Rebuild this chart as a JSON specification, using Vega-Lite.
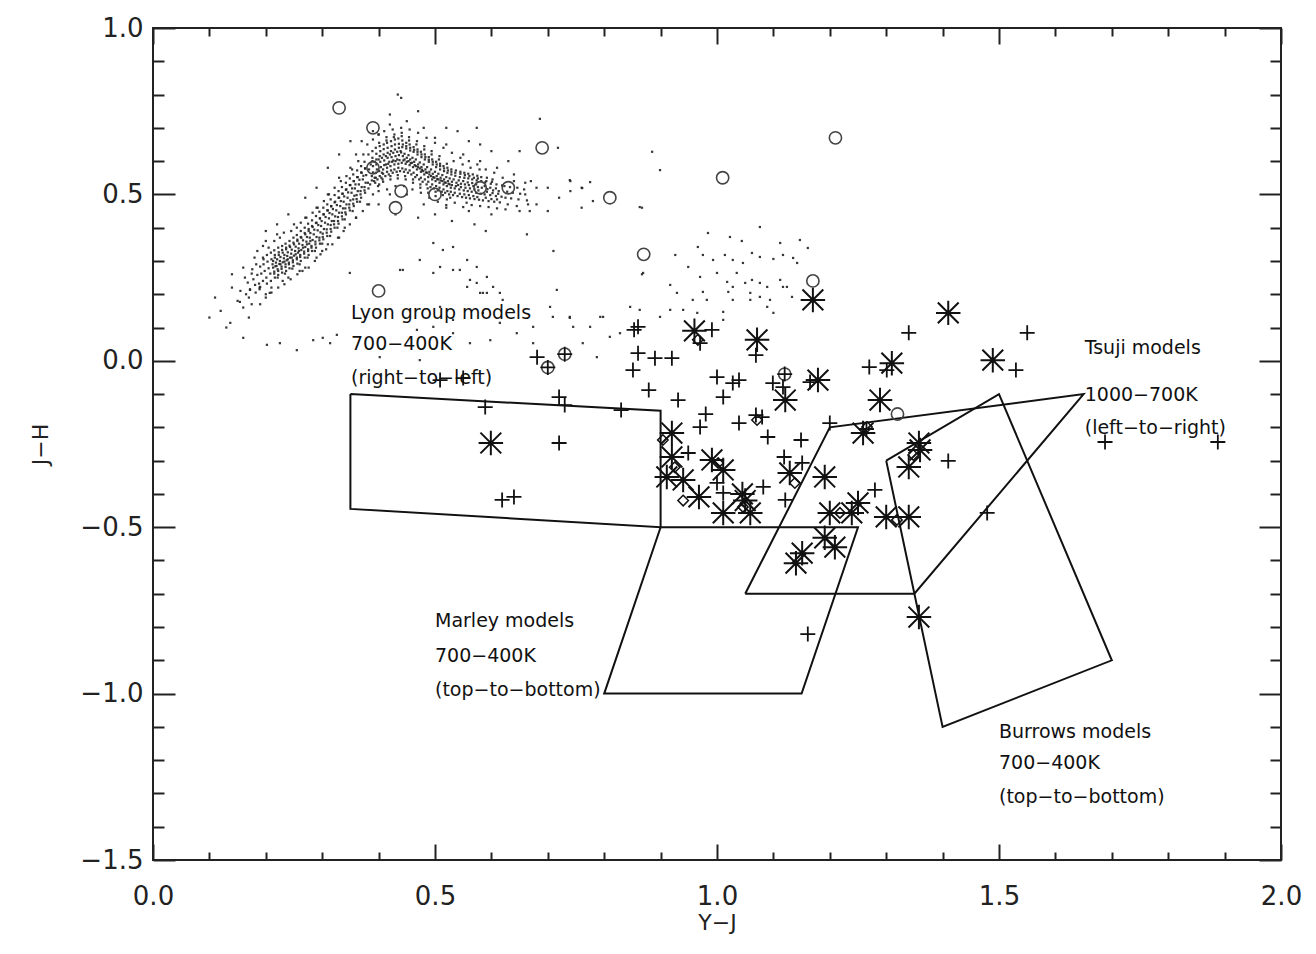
{
  "$schema": "https://vega.github.io/schema/vega-lite/v6.json",
  "width": 1128,
  "height": 832,
  "autosize": {"type": "none"},
  "padding": {"left": 153, "top": 28, "right": 35, "bottom": 94},
  "background": "white",
  "config": {
    "view": {"stroke": "#222", "strokeWidth": 2},
    "axis": {"grid": false, "domain": false, "tickColor": "#222", "tickWidth": 2, "labelFont": "DejaVu Sans", "labelFontSize": 26, "labelColor": "#222", "titleFont": "DejaVu Sans", "titleFontSize": 22, "titleFontWeight": "normal", "titleColor": "#222", "labelFlush": false, "labelOverlap": false, "format": ".1f"}
  },
  "resolve": {"axis": {"x": "independent", "y": "independent"}},
  "datasets": {
    "dots": [
      {"x":0.165,"y":0.20},{"x":0.168,"y":0.235},{"x":0.163,"y":0.25},
      {"x":0.172,"y":0.215},{"x":0.175,"y":0.262},{"x":0.170,"y":0.19},
      {"x":0.178,"y":0.245},{"x":0.181,"y":0.228},{"x":0.176,"y":0.275},{"x":0.182,"y":0.205},
      {"x":0.185,"y":0.258},{"x":0.188,"y":0.232},{"x":0.183,"y":0.29},{"x":0.189,"y":0.215},
      {"x":0.192,"y":0.262},{"x":0.195,"y":0.24},{"x":0.19,"y":0.283},{"x":0.196,"y":0.305},{"x":0.189,"y":0.22},
      {"x":0.198,"y":0.27},{"x":0.201,"y":0.25},{"x":0.196,"y":0.29},{"x":0.202,"y":0.232},{"x":0.195,"y":0.31},
      {"x":0.205,"y":0.278},{"x":0.208,"y":0.262},{"x":0.203,"y":0.298},{"x":0.209,"y":0.24},{"x":0.202,"y":0.318},
      {"x":0.212,"y":0.29},{"x":0.215,"y":0.268},{"x":0.21,"y":0.305},{"x":0.216,"y":0.25},{"x":0.209,"y":0.325},{"x":0.213,"y":0.28},
      {"x":0.218,"y":0.295},{"x":0.221,"y":0.275},{"x":0.216,"y":0.31},{"x":0.222,"y":0.258},{"x":0.215,"y":0.332},{"x":0.219,"y":0.285},
      {"x":0.225,"y":0.30},{"x":0.228,"y":0.283},{"x":0.223,"y":0.318},{"x":0.229,"y":0.265},{"x":0.222,"y":0.34},{"x":0.226,"y":0.29},
      {"x":0.232,"y":0.308},{"x":0.235,"y":0.29},{"x":0.23,"y":0.325},{"x":0.236,"y":0.27},{"x":0.229,"y":0.345},{"x":0.233,"y":0.298},
      {"x":0.238,"y":0.315},{"x":0.241,"y":0.295},{"x":0.236,"y":0.335},{"x":0.242,"y":0.278},{"x":0.235,"y":0.352},{"x":0.239,"y":0.305},
      {"x":0.245,"y":0.322},{"x":0.248,"y":0.302},{"x":0.243,"y":0.342},{"x":0.249,"y":0.285},{"x":0.242,"y":0.36},{"x":0.246,"y":0.31},
      {"x":0.252,"y":0.33},{"x":0.255,"y":0.31},{"x":0.25,"y":0.35},{"x":0.256,"y":0.292},{"x":0.249,"y":0.37},{"x":0.253,"y":0.32},
      {"x":0.258,"y":0.338},{"x":0.261,"y":0.318},{"x":0.256,"y":0.36},{"x":0.262,"y":0.30},{"x":0.255,"y":0.378},{"x":0.259,"y":0.33},
      {"x":0.265,"y":0.348},{"x":0.268,"y":0.328},{"x":0.263,"y":0.37},{"x":0.269,"y":0.31},{"x":0.262,"y":0.39},{"x":0.266,"y":0.34},
      {"x":0.272,"y":0.358},{"x":0.275,"y":0.335},{"x":0.27,"y":0.38},{"x":0.276,"y":0.318},{"x":0.269,"y":0.40},{"x":0.273,"y":0.35},
      {"x":0.278,"y":0.37},{"x":0.281,"y":0.345},{"x":0.276,"y":0.39},{"x":0.282,"y":0.33},{"x":0.275,"y":0.412},{"x":0.279,"y":0.36},
      {"x":0.285,"y":0.38},{"x":0.288,"y":0.358},{"x":0.283,"y":0.402},{"x":0.289,"y":0.34},{"x":0.282,"y":0.422},
      {"x":0.292,"y":0.392},{"x":0.295,"y":0.37},{"x":0.29,"y":0.415},{"x":0.296,"y":0.352},{"x":0.289,"y":0.435},
      {"x":0.298,"y":0.405},{"x":0.301,"y":0.382},{"x":0.296,"y":0.428},{"x":0.302,"y":0.365},{"x":0.295,"y":0.448},
      {"x":0.305,"y":0.415},{"x":0.308,"y":0.395},{"x":0.303,"y":0.44},{"x":0.309,"y":0.375},{"x":0.302,"y":0.46},
      {"x":0.312,"y":0.428},{"x":0.315,"y":0.408},{"x":0.31,"y":0.452},{"x":0.316,"y":0.388},{"x":0.309,"y":0.47},
      {"x":0.318,"y":0.44},{"x":0.321,"y":0.42},{"x":0.316,"y":0.465},{"x":0.322,"y":0.40},{"x":0.315,"y":0.485},
      {"x":0.325,"y":0.452},{"x":0.328,"y":0.432},{"x":0.323,"y":0.478},{"x":0.329,"y":0.412},{"x":0.322,"y":0.498},
      {"x":0.332,"y":0.465},{"x":0.335,"y":0.445},{"x":0.33,"y":0.49},{"x":0.336,"y":0.425},{"x":0.329,"y":0.51},
      {"x":0.338,"y":0.478},{"x":0.341,"y":0.458},{"x":0.336,"y":0.502},{"x":0.342,"y":0.44},{"x":0.335,"y":0.522},
      {"x":0.345,"y":0.49},{"x":0.348,"y":0.47},{"x":0.343,"y":0.515},{"x":0.349,"y":0.452},{"x":0.342,"y":0.535},
      {"x":0.352,"y":0.505},{"x":0.355,"y":0.485},{"x":0.35,"y":0.528},{"x":0.356,"y":0.465},{"x":0.349,"y":0.548},
      {"x":0.358,"y":0.518},{"x":0.361,"y":0.498},{"x":0.356,"y":0.54},{"x":0.362,"y":0.478},{"x":0.355,"y":0.56},
      {"x":0.365,"y":0.53},{"x":0.368,"y":0.51},{"x":0.363,"y":0.552},{"x":0.369,"y":0.49},{"x":0.362,"y":0.572},
      {"x":0.372,"y":0.545},{"x":0.375,"y":0.522},{"x":0.37,"y":0.565},{"x":0.376,"y":0.505},{"x":0.369,"y":0.585},
      {"x":0.378,"y":0.558},{"x":0.381,"y":0.535},{"x":0.376,"y":0.578},{"x":0.382,"y":0.518},{"x":0.375,"y":0.598},
      {"x":0.215,"y":0.262},{"x":0.217,"y":0.284},{"x":0.213,"y":0.30},{"x":0.216,"y":0.318},
      {"x":0.222,"y":0.27},{"x":0.224,"y":0.291},{"x":0.22,"y":0.305},{"x":0.223,"y":0.326},{"x":0.221,"y":0.25},
      {"x":0.228,"y":0.276},{"x":0.230,"y":0.296},{"x":0.226,"y":0.312},{"x":0.229,"y":0.333},
      {"x":0.235,"y":0.282},{"x":0.237,"y":0.302},{"x":0.233,"y":0.318},{"x":0.236,"y":0.34},{"x":0.234,"y":0.262},
      {"x":0.241,"y":0.29},{"x":0.243,"y":0.31},{"x":0.239,"y":0.326},{"x":0.242,"y":0.346},
      {"x":0.248,"y":0.296},{"x":0.25,"y":0.316},{"x":0.246,"y":0.334},{"x":0.249,"y":0.355},{"x":0.247,"y":0.277},
      {"x":0.255,"y":0.305},{"x":0.257,"y":0.325},{"x":0.253,"y":0.343},{"x":0.256,"y":0.364},
      {"x":0.261,"y":0.312},{"x":0.263,"y":0.333},{"x":0.259,"y":0.352},{"x":0.262,"y":0.372},{"x":0.26,"y":0.29},
      {"x":0.268,"y":0.322},{"x":0.27,"y":0.342},{"x":0.266,"y":0.362},{"x":0.269,"y":0.384},
      {"x":0.275,"y":0.33},{"x":0.277,"y":0.352},{"x":0.273,"y":0.372},{"x":0.276,"y":0.396},{"x":0.274,"y":0.31},
      {"x":0.281,"y":0.34},{"x":0.283,"y":0.363},{"x":0.279,"y":0.384},{"x":0.282,"y":0.405},
      {"x":0.288,"y":0.35},{"x":0.29,"y":0.372},{"x":0.286,"y":0.394},{"x":0.289,"y":0.414},{"x":0.287,"y":0.33},
      {"x":0.295,"y":0.362},{"x":0.297,"y":0.386},{"x":0.293,"y":0.408},{"x":0.296,"y":0.428},
      {"x":0.301,"y":0.372},{"x":0.303,"y":0.396},{"x":0.299,"y":0.42},{"x":0.302,"y":0.44},{"x":0.3,"y":0.352},
      {"x":0.308,"y":0.385},{"x":0.31,"y":0.41},{"x":0.306,"y":0.432},{"x":0.309,"y":0.452},
      {"x":0.315,"y":0.396},{"x":0.317,"y":0.42},{"x":0.313,"y":0.444},{"x":0.316,"y":0.464},{"x":0.314,"y":0.375},
      {"x":0.321,"y":0.41},{"x":0.323,"y":0.434},{"x":0.319,"y":0.456},{"x":0.322,"y":0.476},
      {"x":0.328,"y":0.42},{"x":0.33,"y":0.445},{"x":0.326,"y":0.468},{"x":0.329,"y":0.49},{"x":0.327,"y":0.40},
      {"x":0.335,"y":0.434},{"x":0.337,"y":0.458},{"x":0.333,"y":0.48},{"x":0.336,"y":0.502},
      {"x":0.341,"y":0.446},{"x":0.343,"y":0.47},{"x":0.339,"y":0.494},{"x":0.342,"y":0.514},{"x":0.34,"y":0.425},
      {"x":0.348,"y":0.46},{"x":0.35,"y":0.482},{"x":0.346,"y":0.506},{"x":0.349,"y":0.528},
      {"x":0.355,"y":0.472},{"x":0.357,"y":0.496},{"x":0.353,"y":0.518},{"x":0.356,"y":0.54},{"x":0.354,"y":0.45},
      {"x":0.361,"y":0.486},{"x":0.363,"y":0.51},{"x":0.359,"y":0.53},{"x":0.362,"y":0.552},
      {"x":0.368,"y":0.5},{"x":0.37,"y":0.522},{"x":0.366,"y":0.544},{"x":0.369,"y":0.566},{"x":0.367,"y":0.478},
      {"x":0.375,"y":0.512},{"x":0.377,"y":0.535},{"x":0.373,"y":0.556},{"x":0.376,"y":0.578},
      {"x":0.185,"y":0.33},{"x":0.195,"y":0.345},{"x":0.205,"y":0.34},{"x":0.215,"y":0.36},{"x":0.225,"y":0.37},{"x":0.232,"y":0.385},
      {"x":0.245,"y":0.39},{"x":0.255,"y":0.40},{"x":0.262,"y":0.415},{"x":0.272,"y":0.43},{"x":0.283,"y":0.445},{"x":0.292,"y":0.46},
      {"x":0.303,"y":0.48},{"x":0.312,"y":0.5},{"x":0.322,"y":0.52},{"x":0.333,"y":0.54},{"x":0.343,"y":0.555},{"x":0.353,"y":0.575},
      {"x":0.364,"y":0.6},{"x":0.373,"y":0.62},
      {"x":0.20,"y":0.19},{"x":0.21,"y":0.205},{"x":0.222,"y":0.22},{"x":0.233,"y":0.23},{"x":0.244,"y":0.245},{"x":0.256,"y":0.26},
      {"x":0.265,"y":0.27},{"x":0.276,"y":0.28},{"x":0.287,"y":0.30},{"x":0.297,"y":0.32},{"x":0.307,"y":0.335},{"x":0.318,"y":0.35},
      {"x":0.328,"y":0.37},{"x":0.338,"y":0.39},{"x":0.349,"y":0.41},{"x":0.36,"y":0.43},{"x":0.372,"y":0.45},{"x":0.383,"y":0.47},
      {"x":0.39,"y":0.665},{"x":0.40,"y":0.68},{"x":0.41,"y":0.69},{"x":0.425,"y":0.695},{"x":0.44,"y":0.70},{"x":0.455,"y":0.695},
      {"x":0.47,"y":0.685},{"x":0.485,"y":0.67},{"x":0.50,"y":0.655},{"x":0.515,"y":0.64},{"x":0.53,"y":0.625},{"x":0.545,"y":0.61},
      {"x":0.56,"y":0.60},{"x":0.575,"y":0.59},{"x":0.59,"y":0.575},{"x":0.605,"y":0.565},{"x":0.62,"y":0.55},{"x":0.64,"y":0.54},
      {"x":0.66,"y":0.535},{"x":0.68,"y":0.52},
      {"x":0.40,"y":0.51},{"x":0.415,"y":0.515},{"x":0.43,"y":0.525},{"x":0.445,"y":0.525},{"x":0.46,"y":0.515},{"x":0.475,"y":0.505},
      {"x":0.49,"y":0.49},{"x":0.505,"y":0.478},{"x":0.52,"y":0.468},{"x":0.535,"y":0.475},{"x":0.55,"y":0.462},{"x":0.565,"y":0.468},
      {"x":0.58,"y":0.465},{"x":0.595,"y":0.462},{"x":0.61,"y":0.458},{"x":0.625,"y":0.455},{"x":0.645,"y":0.465},{"x":0.665,"y":0.47},
      {"x":0.15,"y":0.18},{"x":0.155,"y":0.21},{"x":0.16,"y":0.16},{"x":0.14,"y":0.22},{"x":0.175,"y":0.17},{"x":0.19,"y":0.17},
      {"x":0.2,"y":0.2},{"x":0.21,"y":0.22},{"x":0.23,"y":0.24},{"x":0.24,"y":0.25},{"x":0.26,"y":0.27},{"x":0.27,"y":0.28},
      {"x":0.29,"y":0.31},{"x":0.3,"y":0.33},{"x":0.31,"y":0.35},{"x":0.33,"y":0.37},{"x":0.2,"y":0.36},{"x":0.22,"y":0.38},
      {"x":0.25,"y":0.41},{"x":0.27,"y":0.43},{"x":0.29,"y":0.46},{"x":0.31,"y":0.5},{"x":0.33,"y":0.55},{"x":0.35,"y":0.58},
      {"x":0.36,"y":0.62},{"x":0.38,"y":0.65},{"x":0.4,"y":0.68},{"x":0.34,"y":0.4},{"x":0.36,"y":0.43},{"x":0.38,"y":0.47},
      {"x":0.39,"y":0.5},{"x":0.12,"y":0.15},{"x":0.1,"y":0.13},{"x":0.13,"y":0.1},{"x":0.11,"y":0.19},{"x":0.17,"y":0.13},
      {"x":0.385,"y":0.53},{"x":0.388,"y":0.555},{"x":0.383,"y":0.575},{"x":0.389,"y":0.60},{"x":0.382,"y":0.62},
      {"x":0.392,"y":0.54},{"x":0.395,"y":0.565},{"x":0.39,"y":0.585},{"x":0.396,"y":0.605},{"x":0.389,"y":0.63},{"x":0.393,"y":0.55},
      {"x":0.398,"y":0.545},{"x":0.401,"y":0.57},{"x":0.396,"y":0.59},{"x":0.402,"y":0.615},{"x":0.395,"y":0.64},{"x":0.399,"y":0.525},
      {"x":0.405,"y":0.55},{"x":0.408,"y":0.575},{"x":0.403,"y":0.598},{"x":0.409,"y":0.62},{"x":0.402,"y":0.645},{"x":0.406,"y":0.565},{"x":0.401,"y":0.53},
      {"x":0.412,"y":0.555},{"x":0.415,"y":0.58},{"x":0.41,"y":0.602},{"x":0.416,"y":0.625},{"x":0.409,"y":0.65},{"x":0.413,"y":0.59},{"x":0.408,"y":0.538},
      {"x":0.418,"y":0.56},{"x":0.421,"y":0.585},{"x":0.416,"y":0.61},{"x":0.422,"y":0.63},{"x":0.415,"y":0.655},{"x":0.419,"y":0.598},{"x":0.414,"y":0.672},
      {"x":0.425,"y":0.565},{"x":0.428,"y":0.59},{"x":0.423,"y":0.612},{"x":0.429,"y":0.635},{"x":0.422,"y":0.66},{"x":0.426,"y":0.602},{"x":0.421,"y":0.545},
      {"x":0.432,"y":0.568},{"x":0.435,"y":0.592},{"x":0.43,"y":0.615},{"x":0.436,"y":0.64},{"x":0.429,"y":0.665},{"x":0.433,"y":0.605},{"x":0.428,"y":0.68},
      {"x":0.438,"y":0.57},{"x":0.441,"y":0.595},{"x":0.436,"y":0.618},{"x":0.442,"y":0.642},{"x":0.435,"y":0.668},{"x":0.439,"y":0.63},{"x":0.434,"y":0.548},
      {"x":0.445,"y":0.568},{"x":0.448,"y":0.592},{"x":0.443,"y":0.615},{"x":0.449,"y":0.638},{"x":0.442,"y":0.662},{"x":0.446,"y":0.605},{"x":0.441,"y":0.685},
      {"x":0.452,"y":0.565},{"x":0.455,"y":0.588},{"x":0.45,"y":0.61},{"x":0.456,"y":0.632},{"x":0.449,"y":0.655},{"x":0.453,"y":0.60},{"x":0.448,"y":0.545},
      {"x":0.458,"y":0.56},{"x":0.461,"y":0.582},{"x":0.456,"y":0.605},{"x":0.462,"y":0.628},{"x":0.455,"y":0.65},{"x":0.459,"y":0.595},{"x":0.454,"y":0.672},
      {"x":0.465,"y":0.552},{"x":0.468,"y":0.575},{"x":0.463,"y":0.598},{"x":0.469,"y":0.62},{"x":0.462,"y":0.642},{"x":0.466,"y":0.585},{"x":0.461,"y":0.535},
      {"x":0.472,"y":0.545},{"x":0.475,"y":0.568},{"x":0.47,"y":0.59},{"x":0.476,"y":0.612},{"x":0.469,"y":0.635},{"x":0.473,"y":0.578},{"x":0.468,"y":0.66},
      {"x":0.478,"y":0.538},{"x":0.481,"y":0.56},{"x":0.476,"y":0.582},{"x":0.482,"y":0.605},{"x":0.475,"y":0.628},{"x":0.479,"y":0.57},{"x":0.474,"y":0.52},
      {"x":0.485,"y":0.53},{"x":0.488,"y":0.552},{"x":0.483,"y":0.575},{"x":0.489,"y":0.598},{"x":0.482,"y":0.62},{"x":0.486,"y":0.565},{"x":0.481,"y":0.645},
      {"x":0.492,"y":0.522},{"x":0.495,"y":0.545},{"x":0.49,"y":0.568},{"x":0.496,"y":0.59},{"x":0.489,"y":0.612},{"x":0.493,"y":0.555},{"x":0.488,"y":0.505},
      {"x":0.498,"y":0.518},{"x":0.501,"y":0.54},{"x":0.496,"y":0.562},{"x":0.502,"y":0.582},{"x":0.495,"y":0.605},{"x":0.499,"y":0.55},{"x":0.494,"y":0.63},
      {"x":0.505,"y":0.512},{"x":0.508,"y":0.535},{"x":0.503,"y":0.555},{"x":0.509,"y":0.575},{"x":0.502,"y":0.598},{"x":0.506,"y":0.545},{"x":0.501,"y":0.495},
      {"x":0.512,"y":0.508},{"x":0.515,"y":0.53},{"x":0.51,"y":0.55},{"x":0.516,"y":0.57},{"x":0.509,"y":0.592},{"x":0.513,"y":0.54},{"x":0.508,"y":0.615},
      {"x":0.518,"y":0.505},{"x":0.521,"y":0.525},{"x":0.516,"y":0.545},{"x":0.522,"y":0.565},{"x":0.515,"y":0.585},{"x":0.519,"y":0.535},
      {"x":0.525,"y":0.50},{"x":0.528,"y":0.52},{"x":0.523,"y":0.54},{"x":0.529,"y":0.56},{"x":0.522,"y":0.58},{"x":0.526,"y":0.53},{"x":0.521,"y":0.485},
      {"x":0.532,"y":0.498},{"x":0.535,"y":0.518},{"x":0.53,"y":0.538},{"x":0.536,"y":0.556},{"x":0.529,"y":0.575},{"x":0.533,"y":0.6},
      {"x":0.54,"y":0.495},{"x":0.543,"y":0.515},{"x":0.538,"y":0.535},{"x":0.544,"y":0.552},{"x":0.537,"y":0.572},{"x":0.541,"y":0.528},
      {"x":0.548,"y":0.492},{"x":0.551,"y":0.512},{"x":0.546,"y":0.532},{"x":0.552,"y":0.55},{"x":0.545,"y":0.568},{"x":0.549,"y":0.59},
      {"x":0.555,"y":0.49},{"x":0.558,"y":0.51},{"x":0.553,"y":0.53},{"x":0.559,"y":0.548},{"x":0.552,"y":0.565},{"x":0.556,"y":0.475},
      {"x":0.562,"y":0.488},{"x":0.565,"y":0.508},{"x":0.56,"y":0.528},{"x":0.566,"y":0.545},{"x":0.559,"y":0.562},{"x":0.563,"y":0.58},
      {"x":0.57,"y":0.486},{"x":0.573,"y":0.505},{"x":0.568,"y":0.525},{"x":0.574,"y":0.542},{"x":0.567,"y":0.56},
      {"x":0.578,"y":0.484},{"x":0.581,"y":0.502},{"x":0.576,"y":0.522},{"x":0.582,"y":0.54},{"x":0.575,"y":0.556},{"x":0.579,"y":0.575},
      {"x":0.585,"y":0.482},{"x":0.588,"y":0.50},{"x":0.583,"y":0.52},{"x":0.589,"y":0.536},{"x":0.582,"y":0.552},
      {"x":0.595,"y":0.48},{"x":0.598,"y":0.498},{"x":0.593,"y":0.516},{"x":0.599,"y":0.532},{"x":0.592,"y":0.55},
      {"x":0.605,"y":0.478},{"x":0.608,"y":0.495},{"x":0.603,"y":0.512},{"x":0.609,"y":0.53},{"x":0.602,"y":0.545},
      {"x":0.615,"y":0.476},{"x":0.618,"y":0.493},{"x":0.613,"y":0.51},{"x":0.619,"y":0.527},
      {"x":0.625,"y":0.49},{"x":0.628,"y":0.508},{"x":0.623,"y":0.525},{"x":0.629,"y":0.47},
      {"x":0.635,"y":0.488},{"x":0.638,"y":0.505},{"x":0.633,"y":0.522},
      {"x":0.648,"y":0.485},{"x":0.651,"y":0.502},{"x":0.646,"y":0.52},
      {"x":0.66,"y":0.5},{"x":0.663,"y":0.482},{"x":0.658,"y":0.515},
      {"x":0.388,"y":0.542},{"x":0.39,"y":0.566},{"x":0.386,"y":0.59},{"x":0.389,"y":0.61},
      {"x":0.395,"y":0.55},{"x":0.397,"y":0.575},{"x":0.393,"y":0.598},{"x":0.396,"y":0.622},{"x":0.394,"y":0.535},
      {"x":0.402,"y":0.555},{"x":0.404,"y":0.582},{"x":0.4,"y":0.605},{"x":0.403,"y":0.63},{"x":0.401,"y":0.655},
      {"x":0.408,"y":0.562},{"x":0.41,"y":0.588},{"x":0.406,"y":0.61},{"x":0.409,"y":0.636},{"x":0.407,"y":0.545},
      {"x":0.415,"y":0.568},{"x":0.417,"y":0.592},{"x":0.413,"y":0.615},{"x":0.416,"y":0.64},{"x":0.414,"y":0.662},
      {"x":0.422,"y":0.572},{"x":0.424,"y":0.598},{"x":0.42,"y":0.62},{"x":0.423,"y":0.645},{"x":0.421,"y":0.555},
      {"x":0.428,"y":0.575},{"x":0.43,"y":0.6},{"x":0.426,"y":0.625},{"x":0.429,"y":0.65},{"x":0.427,"y":0.672},
      {"x":0.435,"y":0.58},{"x":0.437,"y":0.603},{"x":0.433,"y":0.628},{"x":0.436,"y":0.652},{"x":0.434,"y":0.558},
      {"x":0.442,"y":0.578},{"x":0.444,"y":0.602},{"x":0.44,"y":0.626},{"x":0.443,"y":0.65},{"x":0.441,"y":0.675},
      {"x":0.448,"y":0.575},{"x":0.45,"y":0.598},{"x":0.446,"y":0.622},{"x":0.449,"y":0.645},{"x":0.447,"y":0.555},
      {"x":0.455,"y":0.572},{"x":0.457,"y":0.594},{"x":0.453,"y":0.618},{"x":0.456,"y":0.64},{"x":0.454,"y":0.662},
      {"x":0.462,"y":0.565},{"x":0.464,"y":0.588},{"x":0.46,"y":0.61},{"x":0.463,"y":0.634},{"x":0.461,"y":0.545},
      {"x":0.468,"y":0.558},{"x":0.47,"y":0.582},{"x":0.466,"y":0.605},{"x":0.469,"y":0.628},{"x":0.467,"y":0.65},
      {"x":0.475,"y":0.55},{"x":0.477,"y":0.574},{"x":0.473,"y":0.596},{"x":0.476,"y":0.62},{"x":0.474,"y":0.53},
      {"x":0.482,"y":0.545},{"x":0.484,"y":0.566},{"x":0.48,"y":0.59},{"x":0.483,"y":0.612},{"x":0.481,"y":0.635},
      {"x":0.488,"y":0.538},{"x":0.49,"y":0.56},{"x":0.486,"y":0.582},{"x":0.489,"y":0.604},{"x":0.487,"y":0.518},
      {"x":0.495,"y":0.53},{"x":0.497,"y":0.552},{"x":0.493,"y":0.575},{"x":0.496,"y":0.598},{"x":0.494,"y":0.62},
      {"x":0.502,"y":0.525},{"x":0.504,"y":0.546},{"x":0.5,"y":0.568},{"x":0.503,"y":0.59},{"x":0.501,"y":0.508},
      {"x":0.508,"y":0.52},{"x":0.51,"y":0.542},{"x":0.506,"y":0.562},{"x":0.509,"y":0.585},{"x":0.507,"y":0.605},
      {"x":0.515,"y":0.515},{"x":0.517,"y":0.536},{"x":0.513,"y":0.558},{"x":0.516,"y":0.578},{"x":0.514,"y":0.498},
      {"x":0.522,"y":0.51},{"x":0.524,"y":0.532},{"x":0.52,"y":0.552},{"x":0.523,"y":0.572},{"x":0.521,"y":0.592},
      {"x":0.528,"y":0.508},{"x":0.53,"y":0.528},{"x":0.526,"y":0.548},{"x":0.529,"y":0.568},{"x":0.527,"y":0.49},
      {"x":0.535,"y":0.505},{"x":0.537,"y":0.525},{"x":0.533,"y":0.545},{"x":0.536,"y":0.565},
      {"x":0.544,"y":0.502},{"x":0.546,"y":0.522},{"x":0.542,"y":0.542},{"x":0.545,"y":0.562},
      {"x":0.552,"y":0.5},{"x":0.554,"y":0.52},{"x":0.55,"y":0.54},{"x":0.553,"y":0.558},
      {"x":0.56,"y":0.498},{"x":0.562,"y":0.518},{"x":0.558,"y":0.536},{"x":0.561,"y":0.555},
      {"x":0.568,"y":0.495},{"x":0.57,"y":0.515},{"x":0.566,"y":0.534},{"x":0.569,"y":0.55},
      {"x":0.575,"y":0.492},{"x":0.577,"y":0.512},{"x":0.573,"y":0.53},{"x":0.576,"y":0.548},
      {"x":0.59,"y":0.49},{"x":0.592,"y":0.508},{"x":0.588,"y":0.525},{"x":0.591,"y":0.54},
      {"x":0.60,"y":0.486},{"x":0.602,"y":0.504},{"x":0.598,"y":0.52},{"x":0.601,"y":0.538},
      {"x":0.61,"y":0.485},{"x":0.612,"y":0.502},{"x":0.608,"y":0.518},
      {"x":0.37,"y":0.66},{"x":0.39,"y":0.69},{"x":0.42,"y":0.71},{"x":0.45,"y":0.72},{"x":0.48,"y":0.70},{"x":0.5,"y":0.67},
      {"x":0.52,"y":0.65},{"x":0.55,"y":0.62},{"x":0.58,"y":0.6},{"x":0.61,"y":0.58},{"x":0.64,"y":0.56},{"x":0.67,"y":0.54},
      {"x":0.7,"y":0.52},{"x":0.72,"y":0.49},{"x":0.68,"y":0.47},{"x":0.65,"y":0.45},{"x":0.6,"y":0.44},{"x":0.56,"y":0.45},
      {"x":0.52,"y":0.46},{"x":0.48,"y":0.47},{"x":0.45,"y":0.5},{"x":0.42,"y":0.5},{"x":0.4,"y":0.47},{"x":0.43,"y":0.44},
      {"x":0.47,"y":0.43},{"x":0.5,"y":0.44},{"x":0.53,"y":0.42},{"x":0.57,"y":0.41},{"x":0.74,"y":0.51},{"x":0.76,"y":0.46},
      {"x":0.78,"y":0.48},{"x":0.7,"y":0.45},{"x":0.63,"y":0.6},{"x":0.6,"y":0.63},{"x":0.56,"y":0.66},{"x":0.47,"y":0.75},
      {"x":0.44,"y":0.79},{"x":0.52,"y":0.7},{"x":0.58,"y":0.65},{"x":0.35,"y":0.66},{"x":0.33,"y":0.62},{"x":0.31,"y":0.58},
      {"x":0.29,"y":0.52},{"x":0.27,"y":0.49},{"x":0.24,"y":0.44},{"x":0.22,"y":0.41},{"x":0.2,"y":0.39},{"x":0.18,"y":0.31},
      {"x":0.16,"y":0.28},{"x":0.14,"y":0.26},
      {"x":0.434,"y":0.80},{"x":0.42,"y":0.74},{"x":0.574,"y":0.70},{"x":0.686,"y":0.727},{"x":0.54,"y":0.69},{"x":0.65,"y":0.63},
      {"x":0.718,"y":0.64},{"x":0.76,"y":0.52},{"x":0.74,"y":0.54},{"x":0.668,"y":0.45},{"x":0.59,"y":0.39},{"x":0.663,"y":0.38},
      {"x":0.71,"y":0.33},{"x":0.867,"y":0.46},{"x":0.867,"y":0.26},
      {"x":0.497,"y":0.354},{"x":0.514,"y":0.333},{"x":0.532,"y":0.342},{"x":0.557,"y":0.303},{"x":0.574,"y":0.282},{"x":0.592,"y":0.252},
      {"x":0.603,"y":0.222},{"x":0.615,"y":0.204},{"x":0.716,"y":0.213},{"x":0.438,"y":0.273},{"x":0.473,"y":0.303},{"x":0.509,"y":0.282},
      {"x":0.544,"y":0.273},{"x":0.562,"y":0.243},{"x":0.58,"y":0.204},{"x":0.509,"y":0.162},{"x":0.532,"y":0.123},{"x":0.585,"y":0.144},
      {"x":0.615,"y":0.114},{"x":0.674,"y":0.102},{"x":0.709,"y":0.132},{"x":0.745,"y":0.102},{"x":0.793,"y":0.132},{"x":0.828,"y":0.083},
      {"x":0.154,"y":0.177},{"x":0.16,"y":0.069},{"x":0.137,"y":0.114},{"x":0.202,"y":0.048},{"x":0.225,"y":0.053},{"x":0.255,"y":0.032},
      {"x":0.284,"y":0.062},{"x":0.301,"y":0.069},{"x":0.314,"y":0.053},{"x":0.326,"y":0.078},{"x":0.172,"y":0.213},{"x":0.19,"y":0.222},
      {"x":0.207,"y":0.204},{"x":0.349,"y":0.264},{"x":0.443,"y":0.273},{"x":0.497,"y":0.264},{"x":0.532,"y":0.273},{"x":0.574,"y":0.234},
      {"x":0.592,"y":0.204},{"x":0.468,"y":0.093},{"x":0.497,"y":0.102},{"x":0.532,"y":0.083},{"x":0.562,"y":0.053},{"x":0.598,"y":0.062},
      {"x":0.402,"y":0.011},{"x":0.473,"y":0.002},
      {"x":0.557,"y":0.222},{"x":0.585,"y":0.204},{"x":0.62,"y":0.183},{"x":0.704,"y":0.162},{"x":0.739,"y":0.132},{"x":0.775,"y":0.102},
      {"x":0.81,"y":0.072},{"x":0.846,"y":0.162},{"x":0.899,"y":0.132},{"x":0.94,"y":0.153},{"x":0.982,"y":0.183},{"x":1.011,"y":0.123},
      {"x":1.028,"y":0.222},{"x":1.059,"y":0.204},{"x":1.089,"y":0.162},{"x":1.117,"y":0.222},{"x":0.645,"y":0.083},{"x":0.674,"y":0.053},
      {"x":0.762,"y":0.053},{"x":0.787,"y":0.011},
      {"x":0.984,"y":0.384},{"x":1.023,"y":0.372},{"x":1.044,"y":0.36},{"x":1.076,"y":0.402},{"x":1.112,"y":0.354},{"x":1.147,"y":0.363},
      {"x":1.161,"y":0.339},{"x":0.966,"y":0.342},{"x":0.975,"y":0.318},{"x":0.993,"y":0.303},{"x":1.014,"y":0.318},{"x":1.028,"y":0.303},
      {"x":1.046,"y":0.294},{"x":1.062,"y":0.324},{"x":1.076,"y":0.312},{"x":1.1,"y":0.306},{"x":1.117,"y":0.318},{"x":1.135,"y":0.309},
      {"x":1.142,"y":0.294},{"x":0.949,"y":0.282},{"x":0.97,"y":0.252},{"x":1.0,"y":0.264},{"x":1.018,"y":0.237},{"x":1.035,"y":0.264},
      {"x":1.05,"y":0.234},{"x":1.062,"y":0.243},{"x":1.076,"y":0.234},{"x":1.089,"y":0.222},{"x":1.112,"y":0.243},{"x":1.124,"y":0.222},
      {"x":0.917,"y":0.228},{"x":0.929,"y":0.204},{"x":0.957,"y":0.183},{"x":0.975,"y":0.207},{"x":1.02,"y":0.207},{"x":1.028,"y":0.183},
      {"x":1.059,"y":0.183},{"x":1.076,"y":0.192},{"x":1.094,"y":0.183},{"x":1.133,"y":0.192},{"x":0.926,"y":0.318},{"x":0.869,"y":0.264},
      {"x":0.863,"y":0.153},{"x":0.917,"y":0.153},{"x":0.965,"y":0.144},{"x":1.011,"y":0.147},{"x":1.1,"y":0.144},{"x":0.798,"y":0.132},
      {"x":0.739,"y":0.129},{"x":0.885,"y":0.628},{"x":0.899,"y":0.573},{"x":0.863,"y":0.462},{"x":0.775,"y":0.537},{"x":0.739,"y":0.543},
      {"x":0.761,"y":0.519}
    ],
    "circles": [
      {"x":0.33,"y":0.76},{"x":0.39,"y":0.70},{"x":0.39,"y":0.58},{"x":0.44,"y":0.51},{"x":0.43,"y":0.46},{"x":0.50,"y":0.50},
      {"x":0.58,"y":0.52},{"x":0.63,"y":0.52},{"x":0.69,"y":0.64},{"x":0.81,"y":0.49},{"x":0.87,"y":0.32},{"x":0.40,"y":0.21},
      {"x":1.01,"y":0.55},{"x":1.21,"y":0.67},{"x":1.17,"y":0.24},{"x":1.32,"y":-0.16},{"x":0.73,"y":0.02},{"x":0.70,"y":-0.02},
      {"x":1.12,"y":-0.04}
    ],
    "plus": [
      {"x":0.853,"y":0.093},{"x":0.860,"y":0.102},{"x":0.991,"y":0.093},{"x":0.970,"y":0.053},{"x":0.860,"y":0.023},{"x":0.890,"y":0.008},
      {"x":0.920,"y":0.008},{"x":0.681,"y":0.011},{"x":0.851,"y":-0.028},{"x":0.879,"y":-0.088},{"x":0.931,"y":-0.118},{"x":1.0,"y":-0.049},
      {"x":1.028,"y":-0.067},{"x":1.039,"y":-0.058},{"x":1.099,"y":-0.067},{"x":1.117,"y":-0.079},{"x":1.011,"y":-0.109},{"x":0.980,"y":-0.160},
      {"x":0.970,"y":-0.199},{"x":1.039,"y":-0.187},{"x":1.069,"y":-0.163},{"x":1.080,"y":-0.169},{"x":1.090,"y":-0.229},{"x":1.149,"y":-0.238},
      {"x":1.2,"y":-0.187},{"x":0.589,"y":-0.139},{"x":0.720,"y":-0.109},{"x":0.730,"y":-0.133},{"x":0.830,"y":-0.148},{"x":0.720,"y":-0.247},
      {"x":0.619,"y":-0.418},{"x":0.640,"y":-0.409},{"x":0.949,"y":-0.277},{"x":1.119,"y":-0.289},{"x":1.151,"y":-0.307},{"x":1.082,"y":-0.379},
      {"x":1.011,"y":-0.397},{"x":1.121,"y":-0.418},{"x":1.0,"y":-0.367},{"x":1.280,"y":-0.388},{"x":1.479,"y":-0.457},{"x":1.161,"y":-0.821},
      {"x":1.340,"y":0.084},{"x":1.550,"y":0.084},{"x":1.270,"y":-0.019},{"x":1.301,"y":-0.028},{"x":1.530,"y":-0.028},{"x":1.410,"y":-0.301},
      {"x":1.688,"y":-0.244},{"x":1.888,"y":-0.244},{"x":0.509,"y":-0.058},{"x":0.550,"y":-0.052},{"x":1.069,"y":0.017},{"x":1.165,"y":-0.064},
      {"x":1.265,"y":-0.205},{"x":0.73,"y":0.02},{"x":0.70,"y":-0.02},{"x":1.12,"y":-0.04}
    ],
    "aster": [
      {"x":0.96,"y":0.09},{"x":1.071,"y":0.063},{"x":1.170,"y":0.183},{"x":1.179,"y":-0.058},{"x":1.121,"y":-0.118},{"x":1.41,"y":0.144},
      {"x":1.489,"y":0.002},{"x":1.310,"y":-0.007},{"x":1.289,"y":-0.118},{"x":1.259,"y":-0.217},{"x":1.358,"y":-0.247},{"x":1.36,"y":-0.268},
      {"x":1.34,"y":-0.319},{"x":0.599,"y":-0.247},{"x":0.920,"y":-0.217},{"x":0.92,"y":-0.289},{"x":0.911,"y":-0.349},{"x":0.94,"y":-0.358},
      {"x":0.991,"y":-0.298},{"x":1.011,"y":-0.328},{"x":0.968,"y":-0.409},{"x":1.011,"y":-0.457},{"x":1.045,"y":-0.40},{"x":1.05,"y":-0.42},
      {"x":1.059,"y":-0.457},{"x":1.129,"y":-0.337},{"x":1.191,"y":-0.349},{"x":1.20,"y":-0.457},{"x":1.25,"y":-0.427},{"x":1.239,"y":-0.457},
      {"x":1.30,"y":-0.469},{"x":1.34,"y":-0.469},{"x":1.191,"y":-0.532},{"x":1.209,"y":-0.56},{"x":1.151,"y":-0.578},{"x":1.14,"y":-0.608},
      {"x":1.358,"y":-0.77}
    ],
    "diamonds": [
      {"x":0.966,"y":0.063},{"x":0.904,"y":-0.238},{"x":0.925,"y":-0.32},{"x":1.002,"y":-0.307},{"x":0.94,"y":-0.42},{"x":1.046,"y":-0.439},
      {"x":1.138,"y":-0.367},{"x":1.218,"y":-0.457},{"x":1.319,"y":-0.478},{"x":1.348,"y":-0.283},{"x":1.266,"y":-0.199},{"x":1.071,"y":-0.178}
    ],
    "polys": [
      {"model":"Lyon","i":0,"x":0.35,"y":-0.10},{"model":"Lyon","i":1,"x":0.90,"y":-0.15},{"model":"Lyon","i":2,"x":0.90,"y":-0.50},{"model":"Lyon","i":3,"x":0.35,"y":-0.445},{"model":"Lyon","i":4,"x":0.35,"y":-0.10},
      {"model":"Marley","i":0,"x":0.90,"y":-0.50},{"model":"Marley","i":1,"x":1.25,"y":-0.50},{"model":"Marley","i":2,"x":1.15,"y":-1.0},{"model":"Marley","i":3,"x":0.80,"y":-1.0},{"model":"Marley","i":4,"x":0.90,"y":-0.50},
      {"model":"Tsuji","i":0,"x":1.05,"y":-0.70},{"model":"Tsuji","i":1,"x":1.20,"y":-0.20},{"model":"Tsuji","i":2,"x":1.65,"y":-0.10},{"model":"Tsuji","i":3,"x":1.35,"y":-0.70},{"model":"Tsuji","i":4,"x":1.05,"y":-0.70},
      {"model":"Burrows","i":0,"x":1.30,"y":-0.30},{"model":"Burrows","i":1,"x":1.50,"y":-0.10},{"model":"Burrows","i":2,"x":1.70,"y":-0.90},{"model":"Burrows","i":3,"x":1.40,"y":-1.10},{"model":"Burrows","i":4,"x":1.30,"y":-0.30}
    ],
    "labels": [
      {"t":"Lyon group models","x":0.351,"y":0.144},{"t":"700−400K","x":0.351,"y":0.05},{"t":"(right−to−left)","x":0.351,"y":-0.052},
      {"t":"Marley models","x":0.50,"y":-0.782},{"t":"700−400K","x":0.50,"y":-0.887},{"t":"(top−to−bottom)","x":0.50,"y":-0.989},
      {"t":"Tsuji models","x":1.652,"y":0.038},{"t":"1000−700K","x":1.652,"y":-0.103},{"t":"(left−to−right)","x":1.652,"y":-0.202},
      {"t":"Burrows models","x":1.50,"y":-1.115},{"t":"700−400K","x":1.50,"y":-1.209},{"t":"(top−to−bottom)","x":1.50,"y":-1.311}
    ]
  },
  "layer": [
    {
      "data": {"name": "dots"},
      "mark": {"type": "square", "size": 5, "color": "#222", "opacity": 0.9},
      "encoding": {
        "x": {"field": "x", "type": "quantitative", "scale": {"domain": [0, 2], "nice": false, "zero": false},
              "axis": {"orient": "bottom", "values": [0, 0.5, 1, 1.5, 2], "tickSize": -16, "labelPadding": 39, "title": "Y−J", "titlePadding": 3}},
        "y": {"field": "y", "type": "quantitative", "scale": {"domain": [-1.5, 1], "nice": false, "zero": false},
              "axis": {"orient": "left", "values": [-1.5, -1, -0.5, 0, 0.5, 1], "tickSize": -22, "labelPadding": 32, "title": "J−H", "titlePadding": 27}}
      }
    },
    {
      "data": {"name": "polys"},
      "mark": {"type": "line", "color": "#111", "strokeWidth": 2},
      "encoding": {
        "x": {"field": "x", "type": "quantitative", "scale": {"domain": [0, 2], "nice": false, "zero": false},
              "axis": {"orient": "bottom", "values": [0.1,0.2,0.3,0.4,0.6,0.7,0.8,0.9,1.1,1.2,1.3,1.4,1.6,1.7,1.8,1.9], "tickSize": -8, "labels": false, "title": null}},
        "y": {"field": "y", "type": "quantitative", "scale": {"domain": [-1.5, 1], "nice": false, "zero": false},
              "axis": {"orient": "left", "values": [-1.4,-1.3,-1.2,-1.1,-0.9,-0.8,-0.7,-0.6,-0.4,-0.3,-0.2,-0.1,0.1,0.2,0.3,0.4,0.6,0.7,0.8,0.9], "tickSize": -11, "labels": false, "title": null}},
        "detail": {"field": "model"},
        "order": {"field": "i", "type": "quantitative"}
      }
    },
    {
      "data": {"name": "circles"},
      "mark": {"type": "point", "shape": "circle", "filled": false, "size": 150, "color": "#444", "strokeWidth": 1.6, "opacity": 1},
      "encoding": {
        "x": {"field": "x", "type": "quantitative", "scale": {"domain": [0, 2], "nice": false, "zero": false},
              "axis": {"orient": "top", "values": [0, 0.5, 1, 1.5, 2], "tickSize": -16, "labels": false, "title": null}},
        "y": {"field": "y", "type": "quantitative", "scale": {"domain": [-1.5, 1], "nice": false, "zero": false},
              "axis": {"orient": "right", "values": [-1.5, -1, -0.5, 0, 0.5, 1], "tickSize": -22, "labels": false, "title": null}}
      }
    },
    {
      "data": {"name": "plus"},
      "mark": {"type": "point", "shape": "M-1,0L1,0M0,-1L0,1", "filled": false, "size": 225, "color": "#111", "strokeWidth": 1.8, "opacity": 1},
      "encoding": {
        "x": {"field": "x", "type": "quantitative", "scale": {"domain": [0, 2], "nice": false, "zero": false},
              "axis": {"orient": "top", "values": [0.1,0.2,0.3,0.4,0.6,0.7,0.8,0.9,1.1,1.2,1.3,1.4,1.6,1.7,1.8,1.9], "tickSize": -8, "labels": false, "title": null}},
        "y": {"field": "y", "type": "quantitative", "scale": {"domain": [-1.5, 1], "nice": false, "zero": false},
              "axis": {"orient": "right", "values": [-1.4,-1.3,-1.2,-1.1,-0.9,-0.8,-0.7,-0.6,-0.4,-0.3,-0.2,-0.1,0.1,0.2,0.3,0.4,0.6,0.7,0.8,0.9], "tickSize": -11, "labels": false, "title": null}}
      }
    },
    {
      "data": {"name": "diamonds"},
      "mark": {"type": "point", "shape": "M0,-1L1,0L0,1L-1,0Z", "filled": false, "size": 110, "color": "#111", "strokeWidth": 1.5, "opacity": 1},
      "encoding": {
        "x": {"field": "x", "type": "quantitative", "axis": null},
        "y": {"field": "y", "type": "quantitative", "axis": null}
      }
    },
    {
      "data": {"name": "aster"},
      "mark": {"type": "point", "shape": "M-1,0L1,0M0,-1L0,1M-0.85,-0.85L0.85,0.85M-0.85,0.85L0.85,-0.85", "filled": false, "size": 600, "color": "#111", "strokeWidth": 2, "opacity": 1},
      "encoding": {
        "x": {"field": "x", "type": "quantitative", "axis": null},
        "y": {"field": "y", "type": "quantitative", "axis": null}
      }
    },
    {
      "data": {"name": "labels"},
      "mark": {"type": "text", "align": "left", "baseline": "middle", "font": "DejaVu Sans", "fontSize": 19, "color": "#111"},
      "encoding": {
        "x": {"field": "x", "type": "quantitative", "axis": null},
        "y": {"field": "y", "type": "quantitative", "axis": null},
        "text": {"field": "t"}
      }
    }
  ]
}
